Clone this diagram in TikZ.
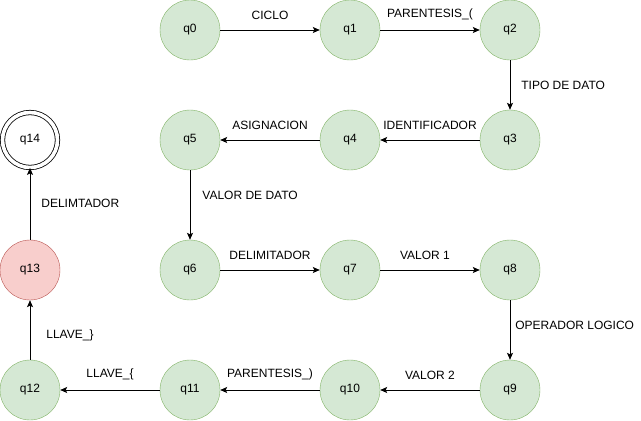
\documentclass[tikz,border=0pt]{standalone}
\usepackage{fontspec}
\setmainfont{Liberation Sans}
\usetikzlibrary{positioning, arrows.meta}
\definecolor{okfill}{HTML}{D5E8D4}
\definecolor{okline}{HTML}{82B366}
\definecolor{errfill}{HTML}{F8CECC}
\definecolor{errline}{HTML}{B85450}

\begin{document}
\begin{tikzpicture}[x=1pt,y=-1pt,
        every node/.style={font=\fontsize{12}{14}\selectfont},
        state/.style={circle, draw=okline, fill=okfill, minimum size=60pt, inner sep=0pt},
        errstate/.style={circle, draw=errline, fill=errfill, minimum size=60pt, inner sep=0pt},
        final/.style={circle, draw, line width=0.8pt, double, double distance=3.6pt, minimum size=55pt, inner sep=0pt},
        trans/.style={->, >={Stealth[length=7pt,width=6pt,inset=1.5pt]}, line width=0.8pt},
        lbl/.style={inner sep=1pt}]
            \useasboundingbox (0,0) rectangle (641,421);
            % states
            \node[state] (q0) at (190,30) {q0};
            \node[state] (q1) at (350,30) {q1};
            \node[state] (q2) at (510,30) {q2};
            \node[state] (q3) at (510,140) {q3};
            \node[state] (q4) at (350,140) {q4};
            \node[state] (q5) at (190,140) {q5};
            \node[state] (q6) at (190,270) {q6};
            \node[state] (q7) at (350,270) {q7};
            \node[state] (q8) at (510,270) {q8};
            \node[state] (q9) at (510,390) {q9};
            \node[state] (q10) at (350,390) {q10};
            \node[state] (q11) at (190,390) {q11};
            \node[state] (q12) at (30,390) {q12};
            \node[errstate] (q13) at (30,270) {q13};
            \node[final] (q14) at (30,140) {q14};
            % transitions
            \draw[trans] (q0)--node[lbl,above=9pt]{CICLO}(q1);
            \draw[trans] (q1)--node[lbl,above=9pt]{PARENTESIS\_(}(q2);
            \draw[trans] (q2)--node[lbl,right=10pt]{TIPO DE DATO}(q3);
            \draw[trans] (q3)--node[lbl,above=9pt]{IDENTIFICADOR}(q4);
            \draw[trans] (q4)--node[lbl,above=9pt]{ASIGNACION}(q5);
            \draw[trans] (q5)--node[lbl,right=11pt,yshift=10pt]{VALOR DE DATO}(q6);
            \draw[trans] (q6)--node[lbl,above=9pt]{DELIMITADOR}(q7);
            \draw[trans] (q7)--node[lbl,above=9pt,xshift=-5pt]{VALOR 1}(q8);
            \draw[trans] (q8)--node[lbl,right=4pt,yshift=5pt]{OPERADOR LOGICO}(q9);
            \draw[trans] (q9)--node[lbl,above=9pt]{VALOR 2}(q10);
            \draw[trans] (q10)--node[lbl,above=9pt]{PARENTESIS\_)}(q11);
            \draw[trans] (q11)--node[lbl,above=9pt]{LLAVE\_\{}(q12);
            \draw[trans] (q12)--node[lbl,right=15pt,yshift=-5pt]{LLAVE\_\}}(q13);
            \draw[trans] (q13)--node[lbl,right=10pt]{DELIMTADOR}(q14);
        \end{tikzpicture}
\end{document}
